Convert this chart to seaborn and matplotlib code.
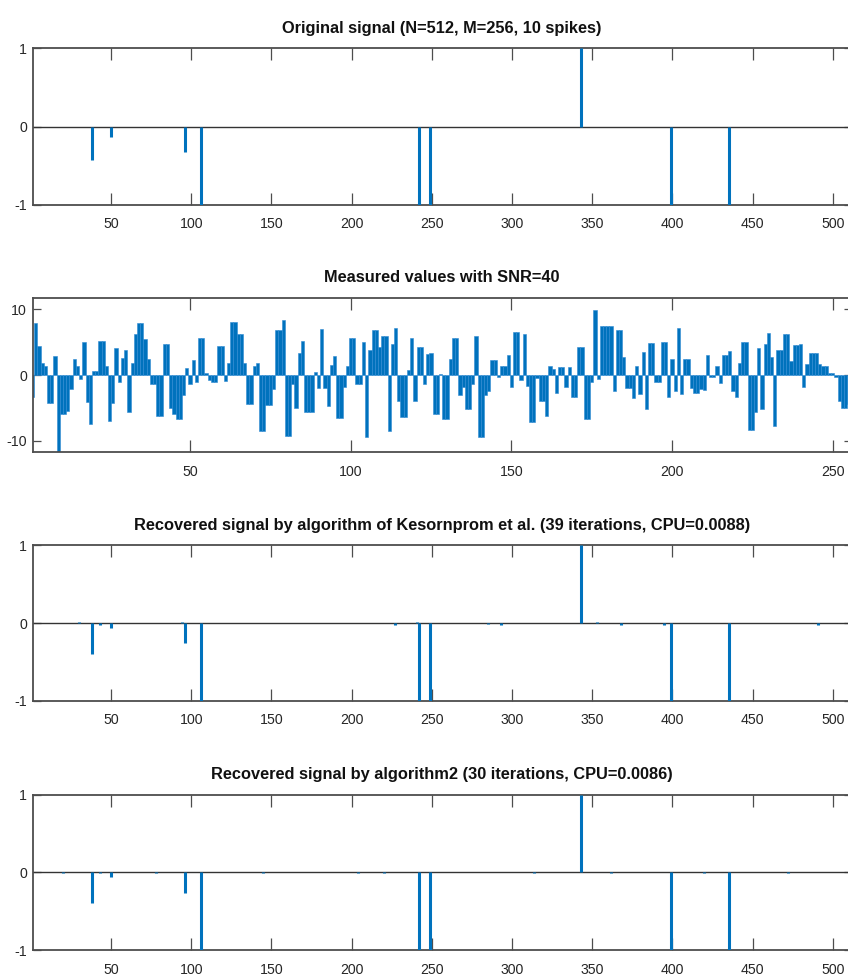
import numpy as np
import pandas as pd
import matplotlib
matplotlib.use("Agg")
import matplotlib.pyplot as plt
from matplotlib import font_manager
import seaborn as sns

# ---- data -------------------------------------------------------------
N = 512
M = 256

spike_idx = [38, 50, 96, 106, 242, 249, 343, 399, 435]
spike_val = [-0.43, -0.13, -0.32, -1.0, -1.0, -1.0, 1.0, -1.0, -1.0]

measured = [
    -3.3, 7.9, 4.5, 1.8, 1.3, -4.2, -4.2, 2.9, -11.8, -5.9,
    -5.9, -5.5, -2.2, 2.5, 1.3, -0.6, 5.0, -4.1, -7.5, 0.6,
    0.6, 5.2, 5.2, 1.4, -7.0, -4.3, 4.1, -1.1, 2.6, 3.8,
    -5.7, 1.8, 6.3, 7.9, 7.9, 5.5, 2.5, -1.3, -1.3, -6.3,
    -6.3, 4.8, 4.8, -5.1, -5.9, -6.7, -6.7, -3.0, 1.0, -1.3,
    2.3, -1.0, 5.6, 5.6, 0.25, -0.8, -1.1, -1.1, 4.4, 4.4,
    -0.9, 1.8, 8.1, 8.1, 6.2, 6.2, 1.9, -4.5, -4.5, 1.3,
    1.8, -8.6, -8.6, -4.6, -4.6, -2.1, 6.9, 6.9, 8.4, -9.3,
    -9.3, -1.3, -5.0, 3.3, 5.2, -5.6, -5.7, -5.7, 0.4, -2.0,
    7.0, -2.0, -4.7, 1.6, 2.9, -6.5, -6.5, -1.8, 1.4, 5.6,
    5.6, -1.3, -1.3, 5.1, -9.4, 3.8, 6.8, 6.8, 4.2, 5.9,
    5.9, -8.6, 4.7, 7.1, -3.9, -6.4, -6.4, 0.7, 5.7, -3.9,
    4.3, 4.3, -1.3, 3.2, 3.3, -5.9, -5.9, 0.1, -6.7, -6.7,
    2.4, 5.7, 5.7, -3.1, -1.8, -5.2, -5.2, -1.4, 6.0, -9.5,
    -9.5, -3.0, -2.5, 2.3, 2.3, -0.3, 1.4, 1.4, 3.0, -1.8,
    6.6, 6.6, -0.8, 6.2, -1.7, -7.2, -7.2, -0.5, -4.0, -4.0,
    -6.2, 1.4, 0.9, -2.7, 1.2, 1.2, -1.9, 1.2, -3.3, -3.3,
    4.2, 4.2, -6.7, -6.7, -1.1, 9.9, -0.6, 7.5, 7.5, 7.5,
    7.5, -2.5, 6.8, 6.8, 2.7, -2.0, -2.0, -3.5, 1.4, -2.9,
    3.5, -5.2, 4.9, 4.9, -1.0, -1.0, 5.1, 5.1, -3.4, 2.5,
    -2.5, 7.1, -2.9, 2.5, 2.5, -2.0, -2.8, -2.8, -2.2, -2.3,
    3.1, -0.3, -0.3, 1.4, -1.2, 3.0, 3.0, 3.7, -2.4, -3.3,
    1.9, 5.0, 5.0, -8.4, -8.4, -5.7, 4.1, -5.2, 4.8, 6.4,
    2.8, -7.8, 3.8, 3.8, 6.2, 6.2, 2.2, 4.6, 4.6, 4.7,
    -1.8, 1.7, 3.4, 3.4, 3.4, 1.7, 1.3, 1.3, 0.3, 0.3,
    -0.3, -4.0, -5.1, -5.1, -4.5, -3.0,
]

# recovered signal, algorithm of Kesornprom et al.
rec1_idx = [30, 38, 43, 50, 94, 96, 106, 227, 241, 242, 249, 265, 285, 293,
            343, 353, 368, 395, 399, 435, 491]
rec1_val = [0.01, -0.40, -0.02, -0.07, 0.01, -0.26, -1.0, -0.02, 0.01, -1.0,
            -1.0, -0.005, -0.01, -0.02, 1.0, 0.01, -0.02, -0.03, -1.0, -1.0,
            -0.02]

# recovered signal, algorithm2
rec2_idx = [12, 20, 30, 34, 38, 43, 50, 64, 78, 94, 96, 106, 116, 145, 162,
            184, 204, 220, 226, 240, 242, 249, 262, 300, 314, 333, 343, 345,
            362, 379, 398, 399, 412, 420, 435, 456, 472, 480, 497]
rec2_val = [0.008, -0.008, 0.005, 0.008, -0.39, -0.01, -0.06, 0.008, -0.008,
            0.005, -0.27, -1.0, 0.008, -0.008, 0.008, 0.008, -0.008, -0.005,
            0.008, 0.01, -1.0, -1.0, 0.008, 0.005, -0.008, 0.008, 1.0, 0.01,
            -0.008, 0.008, 0.01, -1.0, 0.008, -0.005, -1.0, 0.008, -0.008,
            0.005, 0.008]

titles = [
    "Original signal (N=512, M=256, 10 spikes)",
    "Measured values with SNR=40",
    "Recovered signal by algorithm of Kesornprom et al. (39 iterations, CPU=0.0088)",
    "Recovered signal by algorithm2 (30 iterations, CPU=0.0086)",
]
xticks_long = [50, 100, 150, 200, 250, 300, 350, 400, 450, 500]
xticks_short = [50, 100, 150, 200, 250]

# ---- style ------------------------------------------------------------
BLUE = "#0072BD"
AXC = "#4d4d4d"

sns.set_theme(style="white")
installed = {f.name for f in font_manager.fontManager.ttflist}
narrow = "Liberation Sans Narrow" in installed
family = "Liberation Sans Narrow" if narrow else "Liberation Sans"
plt.rcParams["font.family"] = [family, "DejaVu Sans"]
plt.rcParams["axes.unicode_minus"] = False
TITLE_SIZE = 13.0 if narrow else 11.8
TICK_SIZE = 11.5 if narrow else 10.2

W, H = 848, 980
fig = plt.figure(figsize=(W / 100, H / 100), dpi=100)

boxes = [(48.3, 205.0), (297.7, 452.3), (545.3, 700.7), (794.7, 950.0)]
LEFT, RIGHT = 32.5, 852.0


def make_axes(top, bottom):
    return fig.add_axes([LEFT / W, 1 - bottom / H, (RIGHT - LEFT) / W, (bottom - top) / H])


def style_axes(ax, xticks, yticks, title):
    for sp in ax.spines.values():
        sp.set_color(AXC)
        sp.set_linewidth(1.3)
        sp.set_visible(True)
    ax.set_xticks(xticks)
    ax.set_yticks(yticks)
    ax.set_yticklabels([str(t) for t in yticks])
    ax.tick_params(axis="x", direction="in", length=8.8, width=0.9, color=AXC,
                   top=True, bottom=True, labelsize=TICK_SIZE, pad=9, labelcolor="#262626")
    ax.tick_params(axis="y", direction="in", length=6.0, width=0.9, color=AXC,
                   left=True, right=True, labelsize=TICK_SIZE, pad=4, labelcolor="#262626")
    ax.set_xlabel("")
    ax.set_ylabel("")
    ax.grid(False)
    ax.set_title(title, fontsize=TITLE_SIZE, fontweight="bold", pad=11, color="#111111")


def stem_panel(ax, idx, val, title):
    ax.axhline(0, color="#333333", lw=1.0, zorder=1)
    ax.vlines(idx, 0, val, color=BLUE, lw=2.2, zorder=3, capstyle="butt")
    ax.set_xlim(1, N)
    ax.set_ylim(-1, 1)
    style_axes(ax, xticks_long, [-1, 0, 1], title)


ax1 = make_axes(*boxes[0])
stem_panel(ax1, spike_idx, spike_val, titles[0])

ax2 = make_axes(*boxes[1])
df = pd.DataFrame({"m": np.arange(1, M + 1), "y": measured})
sns.barplot(data=df, x="m", y="y", native_scale=True, width=1.0, color=BLUE,
            saturation=1, errorbar=None, edgecolor="#2f8ad3", linewidth=0.4, ax=ax2)
lim = float(np.max(np.abs(measured)))
ax2.set_xlim(1, M)
ax2.set_ylim(-lim, lim)
style_axes(ax2, xticks_short, [-10, 0, 10], titles[1])

ax3 = make_axes(*boxes[2])
stem_panel(ax3, rec1_idx, rec1_val, titles[2])

ax4 = make_axes(*boxes[3])
stem_panel(ax4, rec2_idx, rec2_val, titles[3])

fig.savefig("out.png", dpi=100)
